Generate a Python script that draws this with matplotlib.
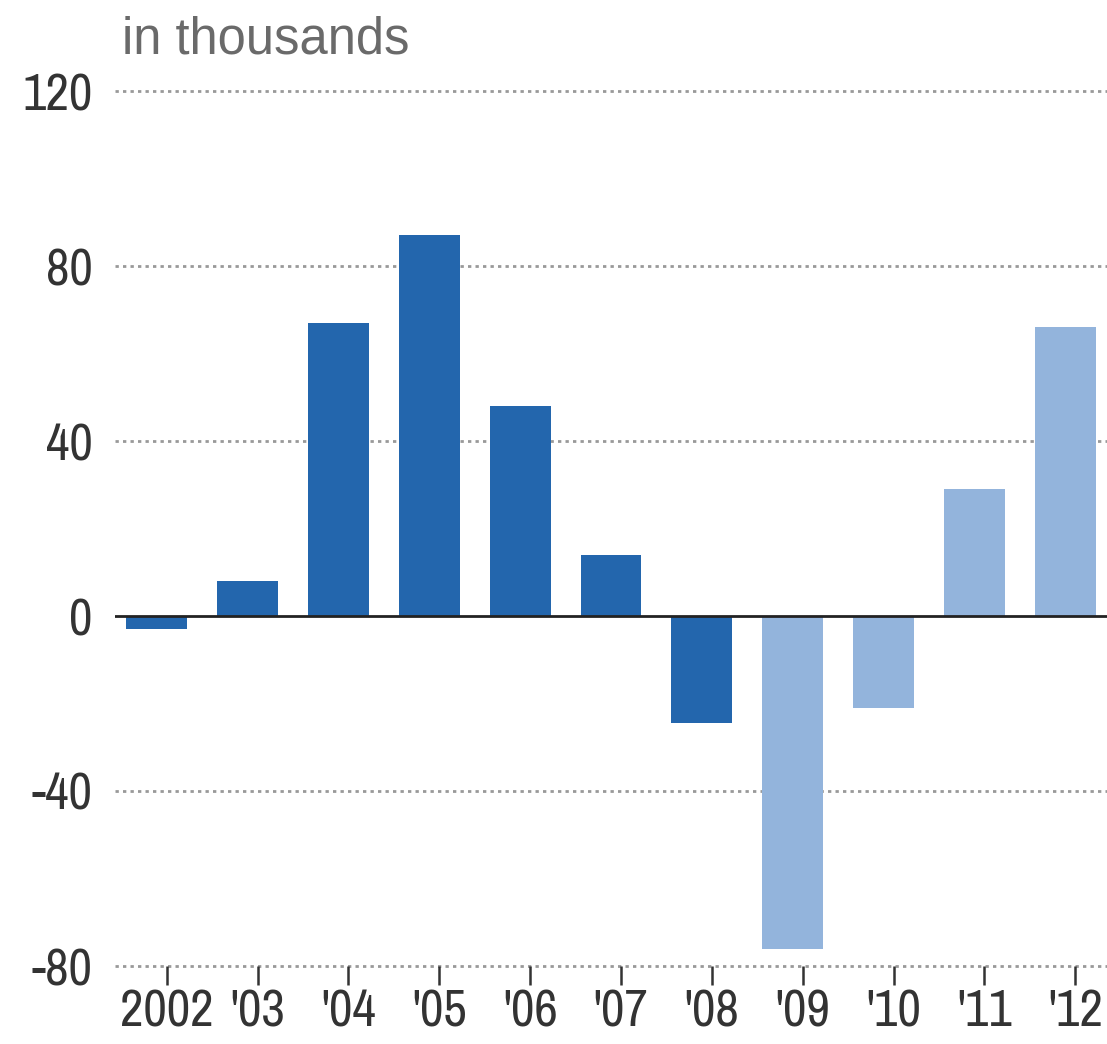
import matplotlib.pyplot as plt
from matplotlib import font_manager

# yearly change, in thousands
years = ["2002", "'03", "'04", "'05", "'06", "'07", "'08", "'09", "'10", "'11", "'12"]
change = [-3, 8, 67, 87, 48, 14, -24.5, -76, -21, 29, 66]
shade = ["dark"] * 7 + ["light"] * 4
y_ticks = [120, 80, 40, 0, -40, -80]

DARK = "#2366ad"
LIGHT = "#93b4dc"

names = {f.name for f in font_manager.fontManager.ttflist}
narrow = "Archivo Narrow" if "Archivo Narrow" in names else "DejaVu Sans"
tick_font = dict(family=[narrow, "DejaVu Sans"], fontstretch="condensed",
                 fontsize=37, color="#333333")

fig = plt.figure(figsize=(11.07, 10.44), dpi=100)
ax = fig.add_axes([115 / 1107, 1 - 966 / 1044, 992 / 1107, 875 / 1044])

xs = list(range(len(years)))
colors = [DARK if s == "dark" else LIGHT for s in shade]
ax.bar(xs, change, width=0.67, color=colors, zorder=2)

ax.set_ylim(-80, 120)
ax.set_xlim(-0.46, 10.46)

# dotted grid and solid zero line
for v in y_ticks:
    if v == 0:
        continue
    ax.axhline(v, color="#999999", lw=2, ls=(0, (1.2, 1.5)), zorder=1, clip_on=False)
ax.axhline(0, color="#222222", lw=2, zorder=3)

for s in ax.spines.values():
    s.set_visible(False)

ax.set_yticks(y_ticks)
ax.set_yticklabels([str(v) for v in y_ticks], **tick_font)
ax.tick_params(axis="y", length=0, pad=16)

ax.set_xticks([x + 0.11 for x in xs])
ax.set_xticklabels(years, **tick_font)
ax.tick_params(axis="x", length=14, width=1.8, color="#333333", pad=2, direction="out")

fig.text(122 / 1107, 1 - 53 / 1044, "in thousands", fontsize=36.5, color="#6a6a6a",
         family=["Liberation Sans", "DejaVu Sans"], ha="left", va="baseline")

fig.savefig("out.png", dpi=100)
